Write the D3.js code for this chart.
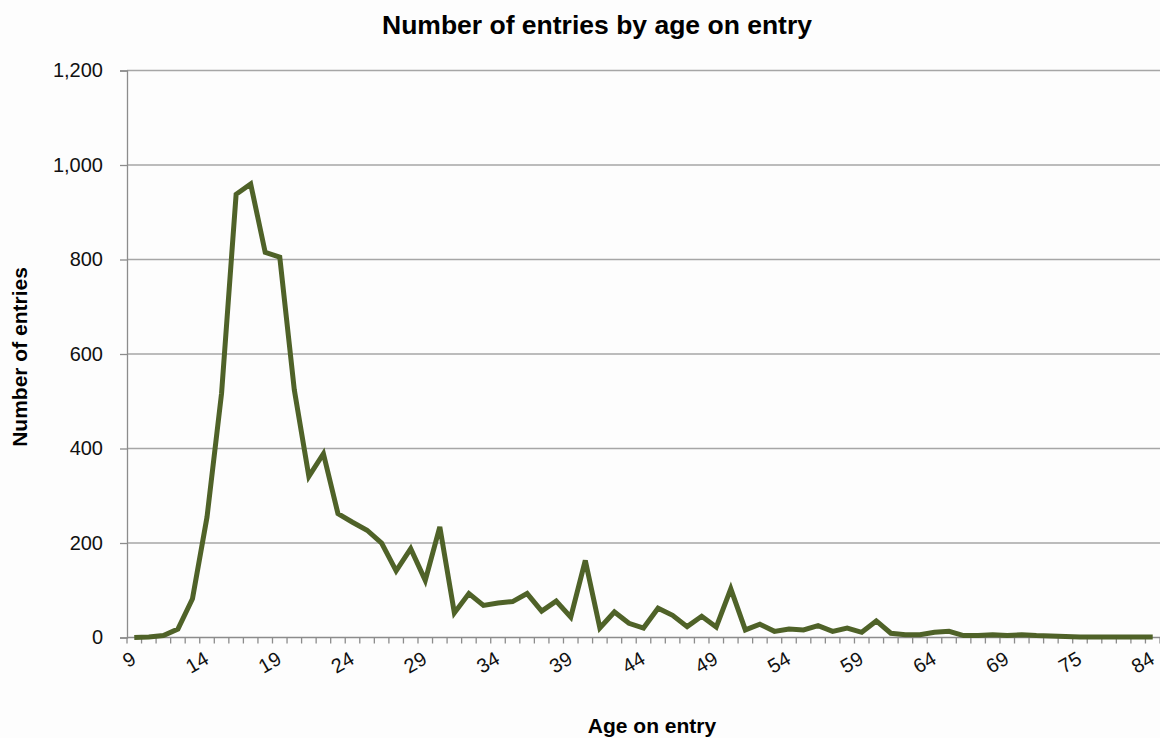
<!DOCTYPE html>
<html>
<head>
<meta charset="utf-8">
<script src="https://d3js.org/d3.v7.min.js"></script>
<style>
  body { margin: 0; background: #fdfdfd; }
  svg { display: block; font-family: "Liberation Sans", Arial, sans-serif; }
</style>
</head>
<body>
<div id="chart"></div>
<script>
// ages on entry (categories) and number of entries for each
var ages = [9, 10, 11, 12, 13, 14, 15, 16, 17, 18, 19, 20, 21, 22, 23, 24, 25, 26, 27, 28,
    29, 30, 31, 32, 33, 34, 35, 36, 37, 38, 39, 40, 41, 42, 43, 44, 45, 46, 47, 48,
    49, 50, 51, 52, 53, 54, 55, 56, 57, 58, 59, 60, 61, 62, 63, 64, 65, 66, 67, 68,
    69, 70, 71, 72, 74, 75, 76, 77, 79, 81, 84];
var entries = [0, 1, 4, 18, 82, 255, 517, 938, 960, 815, 805, 524, 341, 389, 262, 244, 227, 200, 141, 188,
    121, 234, 52, 93, 68, 73, 76, 93, 56, 77, 43, 163, 20, 54, 30, 20, 62, 47, 23, 45,
    22, 103, 16, 28, 13, 18, 16, 25, 13, 20, 11, 35, 9, 6, 6, 11, 13, 4, 4, 6,
    4, 6, 4, 3, 2, 1, 1, 1, 1, 1, 1];
var yTicks = [0, 200, 400, 600, 800, 1000, 1200];

var data = ages.map(function (a, i) { return { age: a, n: entries[i] }; });

// dimensions
var W = 1160, H = 738;
var margin = { top: 70.5, right: 0, bottom: 100.5, left: 127 };

var svg = d3.select("#chart")
    .append("svg")
    .attr("width", W)
    .attr("height", H);

var x = d3.scaleBand()
    .domain(ages)
    .range([margin.left, W - margin.right])
    .padding(0);

var y = d3.scaleLinear()
    .domain([0, 1200])
    .range([H - margin.bottom, margin.top]);

// gridlines
svg.append("g")
    .selectAll("line")
    .data(yTicks.filter(function (d) { return d > 0; }))
    .enter()
    .append("line")
    .attr("x1", margin.left)
    .attr("x2", W - margin.right)
    .attr("y1", d => y(d))
    .attr("y2", d => y(d))
    .attr("stroke", "#a6a6a6")
    .attr("stroke-width", 1.3);

// y axis
var yAxis = svg.append("g")
    .attr("transform", "translate(" + margin.left + ",0)")
    .call(d3.axisLeft(y).tickValues(yTicks).tickSize(7).tickPadding(17).tickFormat(d3.format(",")));
yAxis.select(".domain").attr("stroke", "#8c8c8c").attr("stroke-width", 1.3);
yAxis.selectAll(".tick line").attr("stroke", "#8c8c8c").attr("stroke-width", 1.3);
yAxis.selectAll(".tick text")
    .attr("font-size", 20)
    .attr("fill", "#111")
    .attr("font-family", "Liberation Sans, Arial, sans-serif");

// x axis: line, tick marks between categories, labels every 5th category
var x0 = H - margin.bottom;
svg.append("line")
    .attr("x1", margin.left)
    .attr("x2", W - margin.right)
    .attr("y1", x0)
    .attr("y2", x0)
    .attr("stroke", "#8c8c8c")
    .attr("stroke-width", 1.3);

var bounds = ages.map(function (a) { return x(a); }).concat([x(ages[ages.length - 1]) + x.bandwidth()]);
svg.append("g")
    .selectAll("line")
    .data(bounds)
    .enter()
    .append("line")
    .attr("x1", d => d)
    .attr("x2", d => d)
    .attr("y1", x0)
    .attr("y2", x0 + 6)
    .attr("stroke", "#8c8c8c")
    .attr("stroke-width", 1.3);

svg.append("g")
    .selectAll("text")
    .data(ages.filter(function (a, i) { return i % 5 === 0; }))
    .enter()
    .append("text")
    .attr("transform", d => "translate(" + (x(d) + x.bandwidth() / 2 - 4) + "," + (x0 + 13) + ") rotate(-30)")
    .attr("text-anchor", "end")
    .attr("dy", "0.71em")
    .attr("font-size", 20)
    .attr("fill", "#111")
    .text(d => d);

// the line
svg.append("path")
    .datum(data)
    .attr("fill", "none")
    .attr("stroke", "#4f6228")
    .attr("stroke-width", 5)
    .attr("stroke-linejoin", "miter")
    .attr("d", d3.line()
        .x(d => x(d.age) + x.bandwidth() / 2)
        .y(d => y(d.n)));

// titles
svg.append("text")
    .attr("x", 597)
    .attr("y", 34)
    .attr("text-anchor", "middle")
    .attr("font-size", 26.5)
    .attr("font-weight", "bold")
    .text("Number of entries by age on entry");

svg.append("text")
    .attr("transform", "translate(27,357) rotate(-90)")
    .attr("text-anchor", "middle")
    .attr("font-size", 21)
    .attr("font-weight", "bold")
    .text("Number of entries");

svg.append("text")
    .attr("x", 652)
    .attr("y", 733)
    .attr("text-anchor", "middle")
    .attr("font-size", 21)
    .attr("font-weight", "bold")
    .text("Age on entry");
</script>
</body>
</html>
